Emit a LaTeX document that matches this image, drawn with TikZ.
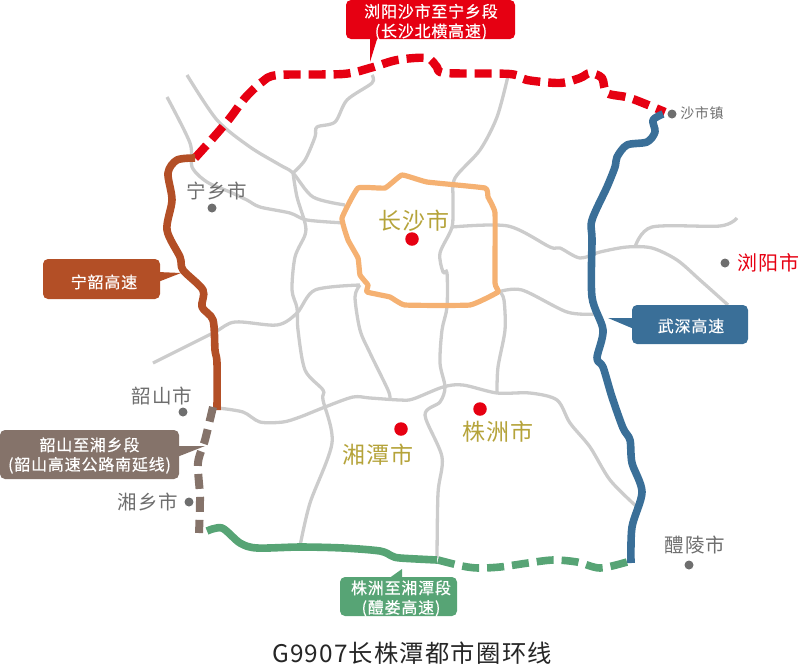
\documentclass[tikz,border=0pt]{standalone}
\usepackage{fontspec}
\usepackage{tikz}
\newfontfamily\cjk[LetterSpace=5]{Noto Sans CJK SC}
\newfontfamily\cjkwhite[LetterSpace=5,FakeBold=0.4]{Noto Sans CJK SC}
\definecolor{redline}{HTML}{E60012}
\definecolor{brownline}{HTML}{B34F26}
\definecolor{taupeline}{HTML}{85736A}
\definecolor{blueline}{HTML}{3A6F98}
\definecolor{greenline}{HTML}{57A475}
\definecolor{ringline}{HTML}{F5B172}
\definecolor{roadline}{HTML}{CCCCCC}
\definecolor{cityname}{HTML}{B5A33A}
\definecolor{townname}{HTML}{6E6E6E}
\tikzset{
  road/.style={draw=roadline, line width=3.3pt},
  highway/.style={line width=7.6pt, line join=round},
  gapped/.style={dash pattern=on 17pt off 8pt},
  tagbox/.style={rectangle, rounded corners=5pt, inner sep=0pt},
  tagtext/.style={text=white, align=center, inner sep=0pt, font=\cjkwhite\fontsize{16}{19.5}\selectfont},
  towndot/.style={circle, fill=townname, inner sep=0pt, minimum size=9pt},
  citydot/.style={circle, fill=redline, inner sep=0pt, minimum size=13.5pt},
  townlabel/.style={text=townname, inner sep=0pt, font=\cjk\fontsize{19.5}{22}\selectfont},
  citylabel/.style={text=cityname, inner sep=0pt, font=\cjk\fontsize{23}{26}\selectfont},
}

\begin{document}
\begin{tikzpicture}[x=1pt, y=-1pt]
\useasboundingbox (0,0) rectangle (800,665);
% grey roads
\draw[road] plot[smooth, tension=0.5] coordinates{(167,97)(190,143)(192,167)(207,182)(230,192)(247,200)(260,207)(290,213)(307,220)(345,223)};
\draw[road] plot[smooth, tension=0.5] coordinates{(187,75)(217,120)(250,147)(280,165)(293,173)(313,197)(345,205)};
\draw[road] plot[smooth, tension=0.5] coordinates{(372,75)(372,83)(347,100)(335,122)(317,127)(315,137)(305,160)(293,173)};
\draw[road] plot[smooth, tension=0.5] coordinates{(293,173)(297,197)(305,223)(305,235)(295,257)(292,290)(297,308)(298,330)(305,370)(323,390)(323,400)(332,443)(310,503)(300,546)};
\draw[road] plot[smooth, tension=0.5] coordinates{(360,285)(315,290)(297,313)(277,325)(235,322)(213,333)(153,363)};
\draw[road] plot[smooth, tension=0.5] coordinates{(360,285)(355,297)(360,330)(370,353)(388,390)(390,399)};
\draw[road] plot[smooth, tension=0.5] coordinates{(218,408)(243,412)(260,422)(283,422)(300,417)(325,407)(353,397)(370,398)(400,400)(413,399)(443,387)(463,385)(497,393)(530,393)(557,400)(570,423)(590,447)(610,480)(636,506)};
\draw[road] plot[smooth, tension=0.5] coordinates{(508,76)(497,117)(480,150)(455,178)(453,200)(452,227)(440,253)(443,272)(447,273)(447,307)(442,330)(440,363)(445,387)(440,402)(425,415)(442,457)(438,493)(437,558)};
\draw[road] plot[smooth, tension=0.5] coordinates{(452,227)(508,226)(550,247)(560,248)(580,258)(600,252)(627,247)(652,248)(677,260)(700,280)(728,305)};
\draw[road] plot[smooth, tension=0.5] coordinates{(635,247)(652,227)(720,226)(737,218)};
\draw[road] plot[smooth, tension=0.5] coordinates{(498,292)(522,290)(567,312)(595,314)};
\draw[road] plot[smooth, tension=0.5] coordinates{(500,292)(504,300)(505,330)(498,367)(497,392)};
% ring road
\draw[draw=ringline, line width=5.2pt, line join=round] plot[smooth cycle, tension=0.2] coordinates{(342,218)(358,188)(385,188)(402,175)(427,182)(485,188)(488,197)(495,213)(495,283)(498,292)(470,305)(405,305)(390,297)(367,292)(368,285)(360,275)(358,258)(348,240)};
% ring line sections
\draw[highway, draw=redline, line width=8.4pt, gapped] plot[smooth, tension=0.5] coordinates{(195,158)(213,138)(230,118)(245,98)(262,82)(278,75)(343,74)(370,68)(397,60)(427,58)(437,67)(445,73)(510,74)(527,80)(560,83)(580,78)(590,73)(602,78)(607,93)(630,98)(665,112)};
\draw[highway, draw=brownline] plot[smooth, tension=0.5] coordinates{(195,158)(177,160)(168,173)(172,200)(167,230)(180,257)(183,270)(203,290)(202,307)(213,320)(215,350)(217,363)(217,410)};
\draw[highway, draw=taupeline, line width=8pt, dash pattern=on 15pt off 8pt] plot[smooth, tension=0.5] coordinates{(213,407)(205,440)(198,463)(200,497)(199,533)};
\draw[highway, draw=blueline] plot[smooth, tension=0.5] coordinates{(663,114)(653,120)(655,132)(647,142)(627,145)(617,157)(615,167)(607,187)(592,220)(592,240)(592,297)(603,330)(597,358)(603,367)(612,397)(623,428)(630,440)(632,463)(642,492)(632,527)(631,563)};
\draw[highway, draw=greenline] plot[smooth, tension=0.5] coordinates{(207,531)(222,528)(240,543)(257,548)(300,547)(343,548)(380,551)(392,556)(400,558)(437,560)};
\draw[highway, draw=greenline, gapped] plot[smooth, tension=0.5] coordinates{(438,560)(462,566)(478,568)(500,567)(528,563)(553,560)(577,562)(600,568)(627,562)};
% towns
\node[towndot] (ningxiangdot) at (212,208) {};
\node[townlabel] (ningxiang) at (217,191) {宁乡市};
\node[towndot] (shashidot) at (672,114) {};
\node[text=townname, inner sep=0pt, font=\cjk\fontsize{14}{16}\selectfont] (shashi) at (702,113) {沙市镇};
\node[towndot] (liuyangdot) at (725,263) {};
\node[text=redline, inner sep=0pt, font=\cjk\fontsize{20}{22}\selectfont] (liuyang) at (768,263) {浏阳市};
\node[towndot] (shaoshandot) at (183,412) {};
\node[townlabel] (shaoshan) at (162,396) {韶山市};
\node[towndot] (xiangxiangdot) at (189,502) {};
\node[townlabel] (xiangxiang) at (148,502) {湘乡市};
\node[towndot] (lilingdot) at (689,565) {};
\node[townlabel] (liling) at (695,545) {醴陵市};
% cities
\node[citydot] (changshadot) at (412,239) {};
\node[citylabel] (changsha) at (414,221) {长沙市};
\node[citydot] (xiangtandot) at (401,429) {};
\node[citylabel] (xiangtan) at (378,455) {湘潭市};
\node[citydot] (zhuzhoudot) at (480,409) {};
\node[citylabel] (zhuzhou) at (498,432) {株洲市};
% tags
\fill[redline] (370,36) -- (378,36) -- (370,62) -- cycle;
\node[tagbox, fill=redline, minimum width=169pt, minimum height=39pt] (northbox) at (430.5,19.5) {};
\node[tagtext] (northtag) at (431,22) {浏阳沙市至宁乡段\\(长沙北横高速)};
\fill[brownline] (158,272) -- (158,282) -- (181,273) -- cycle;
\node[tagbox, fill=brownline, minimum width=117pt, minimum height=40pt] (westbox) at (101.5,279) {};
\node[tagtext] (westtag) at (104,282) {宁韶高速};
\fill[taupeline] (177,446) -- (177,457) -- (205,446) -- cycle;
\node[tagbox, fill=taupeline, minimum width=179pt, minimum height=49pt] (southwestbox) at (89.5,454.5) {};
\node[tagtext] (southwesttag) at (89.5,455.5) {韶山至湘乡段\\(韶山高速公路南延线)};
\fill[blueline] (634,318) -- (634,329) -- (608,318) -- cycle;
\node[tagbox, fill=blueline, minimum width=116pt, minimum height=39pt] (eastbox) at (690,324.5) {};
\node[tagtext] (easttag) at (691,326) {武深高速};
\fill[greenline] (388,579) -- (402,579) -- (402,569) -- cycle;
\node[tagbox, fill=greenline, minimum width=117pt, minimum height=39pt] (southbox) at (398.5,596.5) {};
\node[tagtext] (southtag) at (401,598.5) {株洲至湘潭段\\(醴娄高速)};
% title
\node[text=black!85, inner sep=0pt, font=\cjk\fontsize{24.3}{27}\selectfont] (title) at (412,653) {G9907长株潭都市圈环线};
\end{tikzpicture}
\end{document}
